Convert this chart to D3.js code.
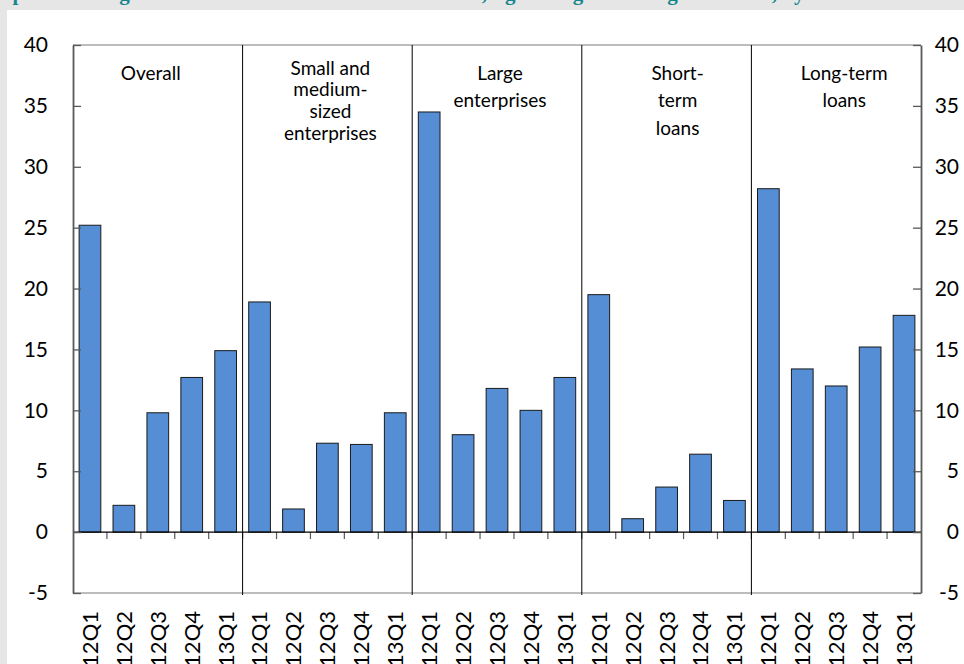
<!DOCTYPE html>
<html><head><meta charset="utf-8">
<script src="https://cdn.jsdelivr.net/npm/d3@7"></script>
<style>html,body{margin:0;padding:0;background:#e6e6e6;overflow:hidden}</style>
</head><body><svg id="c" width="964" height="664"></svg>
<script>
const titleText = "Expected change in credit standards for business sector, tightening of lending standards, by size";
const groupLines = [["Overall"],["Small and","medium-","sized","enterprises"],["Large","enterprises"],["Short-","term","loans"],["Long-term","loans"]];
const quarters = ["12Q1","12Q2","12Q3","12Q4","13Q1"];
const overall   = [25.2, 2.2, 9.8, 12.7, 14.9];
const sme       = [18.9, 1.9, 7.3, 7.2, 9.8];
const large     = [34.5, 8.0, 11.8, 10.0, 12.7];
const shortTerm = [19.5, 1.1, 3.7, 6.4, 2.6];
const longTerm  = [28.2, 13.4, 12.0, 15.2, 17.8];
const yTicks = [-5, 0, 5, 10, 15, 20, 25, 30, 35, 40];

const series = [overall, sme, large, shortTerm, longTerm];
const data = [];
series.forEach((vals, g) => vals.forEach((v, i) => data.push({g, q: quarters[i], v, key: g + "|" + quarters[i]})));

const svg = d3.select("#c");
const FONT = "Lato, 'Open Sans', sans-serif";
const L = 73, R = 921, T = 45, B = 593;

svg.append("rect").attr("x", 7).attr("y", 10).attr("width", 957).attr("height", 654).attr("fill", "#fff");
svg.append("text").attr("x", -12).attr("y", 0).attr("font-family", "'Liberation Serif', serif")
  .attr("font-weight", "bold").attr("font-size", 21).attr("fill", "#17868c").text(titleText);

const x = d3.scaleBand().domain(data.map(d => d.key)).range([L, R]).paddingInner(0.36).paddingOuter(0.18);
const y = d3.scaleLinear().domain([-5, 40]).range([B, T]);
const step = x.step();

// frame lines top/bottom
svg.append("line").attr("x1", L).attr("x2", R).attr("y1", T).attr("y2", T).attr("stroke", "#a6a6a6").attr("stroke-width", 1.5);
svg.append("line").attr("x1", L).attr("x2", R).attr("y1", B).attr("y2", B).attr("stroke", "#a6a6a6").attr("stroke-width", 1.5);

// bars
svg.append("g").selectAll("rect").data(data).join("rect")
  .attr("x", d => x(d.key)).attr("width", x.bandwidth())
  .attr("y", d => y(Math.max(0, d.v))).attr("height", d => Math.abs(y(d.v) - y(0)))
  .attr("fill", "#558ed5").attr("stroke", "#1a1a1a").attr("stroke-width", 1);

// category boundary ticks on zero line
const bounds = data.slice(0, -1).map(d => x(d.key) + x.bandwidth() / 2 + step / 2);
svg.append("g").selectAll("line").data(bounds).join("line")
  .attr("x1", d => d).attr("x2", d => d).attr("y1", y(0)).attr("y2", y(0) + 7)
  .attr("stroke", "#595959").attr("stroke-width", 1.2);

// zero line
svg.append("line").attr("x1", L).attr("x2", R).attr("y1", y(0)).attr("y2", y(0)).attr("stroke", "#000").attr("stroke-width", 1.2);

// group dividers
const dividers = [1, 2, 3, 4].map(g => x(g + "|" + quarters[0]) + x.bandwidth() / 2 - step / 2);
svg.append("g").selectAll("line").data(dividers).join("line")
  .attr("x1", d => d).attr("x2", d => d).attr("y1", T).attr("y2", B + 2)
  .attr("stroke", "#000").attr("stroke-width", 1);

// axes
const fmt = d => String(d);
const yl = svg.append("g").attr("transform", `translate(${L},0)`)
  .call(d3.axisLeft(y).tickValues(yTicks).tickFormat(fmt).tickSize(-8).tickSizeOuter(0).tickPadding(25));
const yr = svg.append("g").attr("transform", `translate(${R},0)`)
  .call(d3.axisRight(y).tickValues(yTicks).tickFormat(fmt).tickSize(-8).tickSizeOuter(0).tickPadding(38));
[yl, yr].forEach(a => {
  a.select(".domain").attr("stroke", "#595959").attr("stroke-width", 1.8);
  a.selectAll(".tick line").attr("stroke", "#595959").attr("stroke-width", 1.3);
  a.selectAll(".tick text").attr("font-family", FONT).attr("font-size", 21).attr("fill", "#000");
});
yr.selectAll(".tick text").attr("text-anchor", "end");

// x labels
svg.append("g").selectAll("text").data(data).join("text")
  .attr("transform", d => `translate(${x(d.key) + x.bandwidth() / 2},611) rotate(-90)`)
  .attr("text-anchor", "end").attr("dy", "0.36em")
  .attr("font-family", FONT).attr("font-size", 22).attr("fill", "#000")
  .text(d => d.q);

// panel labels
const offsets = [-7, 3, 3, 11, 8];
const firstY = [73, 68, 73, 73, 73];
const gaps = [27.5, 21.7, 27.7, 27.5, 27.8];
groupLines.forEach((lines, g) => {
  const cx = x(g + "|" + quarters[2]) + x.bandwidth() / 2 + offsets[g];
  svg.append("text").attr("font-family", FONT).attr("font-size", 19).attr("fill", "#000")
    .attr("text-anchor", "middle")
    .selectAll("tspan").data(lines).join("tspan")
    .attr("x", cx).attr("y", (d, i) => firstY[g] + i * gaps[g]).attr("dy", "0.35em").text(d => d);
});
</script></body></html>
